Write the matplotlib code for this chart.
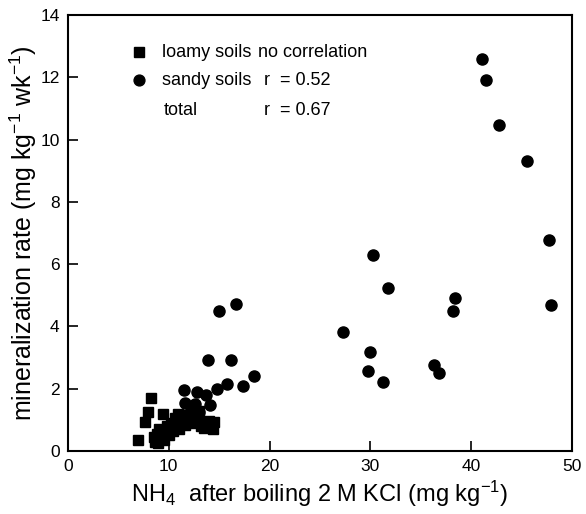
import matplotlib.pyplot as plt

plt.rcParams['font.family'] = ['Liberation Sans', 'DejaVu Sans']
plt.rcParams['mathtext.default'] = 'regular'

# loamy soils (squares)
loamy_x = [6.9, 7.6, 7.9, 8.2, 8.5, 8.6, 8.8, 8.9, 9.0, 9.2, 9.4, 9.5, 9.6, 9.8,
           10.0, 10.2, 10.4, 10.6, 10.9, 11.0, 11.3, 11.6, 12.0, 12.3, 12.6, 12.9,
           13.2, 13.5, 14.0, 14.4, 14.5, 13.0, 11.8]
loamy_y = [0.35, 0.94, 1.26, 1.69, 0.45, 0.3, 0.55, 0.25, 0.7, 0.4, 1.2, 0.35, 0.6, 0.8,
           0.5, 0.9, 0.65, 1.05, 1.2, 0.7, 0.95, 0.85, 1.0, 1.25, 0.9, 1.1,
           0.8, 0.75, 0.95, 0.72, 0.94, 1.3, 1.15]

# sandy soils (circles)
sandy_x = [41.1, 41.45, 42.8, 45.5, 47.7, 47.9, 30.3, 31.75, 38.4, 38.2, 27.3, 30.0,
           29.8, 31.3, 36.3, 36.8, 15.0, 16.7, 13.9, 16.2, 18.5, 15.8, 17.4, 14.75,
           11.5, 12.8, 13.7, 11.65, 12.6, 14.06, 13.0, 12.2]
sandy_y = [12.59, 11.9, 10.48, 9.33, 6.77, 4.69, 6.3, 5.24, 4.92, 4.5, 3.81, 3.18,
           2.57, 2.22, 2.76, 2.5, 4.5, 4.71, 2.92, 2.92, 2.42, 2.14, 2.1, 2.0,
           1.96, 1.88, 1.8, 1.55, 1.5, 1.48, 1.25, 1.3]

fig = plt.figure(figsize=(5.86, 5.14), dpi=100)
ax = fig.add_axes([0.116, 0.1226, 0.86, 0.848])

ax.plot(loamy_x, loamy_y, 's', color='black', ms=7.8, mec='black')
ax.plot(sandy_x, sandy_y, 'o', color='black', ms=8, mec='black')

ax.set_xlim(0, 50)
ax.set_ylim(0, 14)
ax.set_xticks([0, 10, 20, 30, 40, 50])
ax.set_yticks([0, 2, 4, 6, 8, 10, 12, 14])
ax.tick_params(direction='in', length=7, width=1.2, labelsize=12.5, pad=6)
for s in ax.spines.values():
    s.set_linewidth(1.5)

ax.set_xlabel('NH$_4$  after boiling 2 M KCl (mg kg$^{-1}$)', fontsize=17, labelpad=3)
ax.set_ylabel('mineralization rate (mg kg$^{-1}$ wk$^{-1}$)', fontsize=18)
ax.yaxis.set_label_coords(-0.058, 0.5)

# legend written as text inside the axes
ax.plot([7.0], [12.8], 's', color='black', ms=6.5)
ax.plot([7.0], [11.9], 'o', color='black', ms=7.8)
ax.text(9.3, 12.8, 'loamy soils', fontsize=13, va='center')
ax.text(18.9, 12.8, 'no correlation', fontsize=13, va='center')
ax.text(9.3, 11.9, 'sandy soils', fontsize=13, va='center')
ax.text(19.4, 11.9, 'r  = 0.52', fontsize=13, va='center')
ax.text(9.5, 10.95, 'total', fontsize=13, va='center')
ax.text(19.4, 10.95, 'r  = 0.67', fontsize=13, va='center')

fig.savefig('out.png', dpi=100)
